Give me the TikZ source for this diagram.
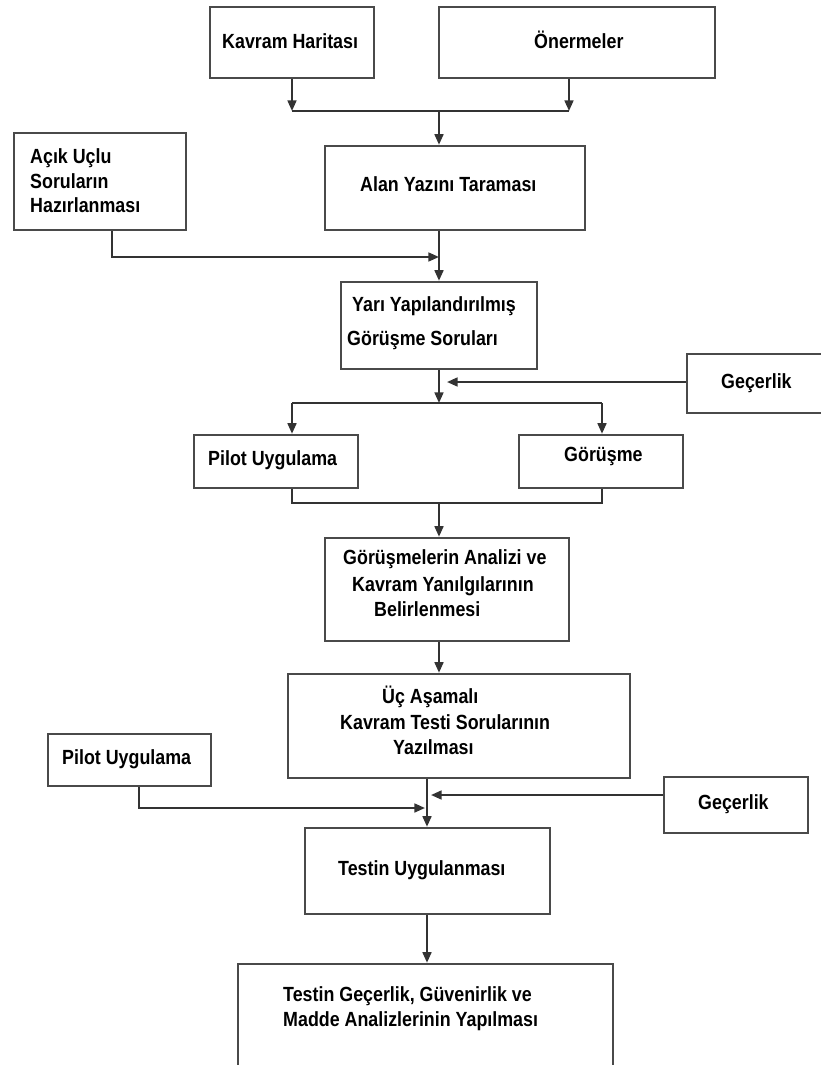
\documentclass[tikz,border=0pt]{standalone}
\usepackage{fontspec}
\setmainfont{Liberation Sans}[FakeStretch=0.87]
\usetikzlibrary{arrows.meta,fit}
\definecolor{edge}{HTML}{4A4A4A}
\definecolor{wire}{HTML}{333333}
\begin{document}
\begin{tikzpicture}[x=0.03cm,y=-0.03cm,
  box/.style={draw=edge,line width=2.1pt,inner sep=0pt},
  wire/.style={draw=wire,line width=1.8pt},
  arr/.style={wire,-{Triangle[length=9pt,width=7.5pt]}},
  lbl/.style={anchor=mid west,inner sep=0pt,yshift=-2.6pt,font=\fontsize{17.5}{20}\selectfont\bfseries}]
\clip (0,0) rectangle (821,1065);
\fill[white] (0,0) rectangle (821,1065);

% boxes
\node[box,fit={(210,7)(374,78)}]   (kh) {};
\node[box,fit={(439,7)(715,78)}]   (on) {};
\node[box,fit={(14,133)(186,230)}] (ac) {};
\node[box,fit={(325,146)(585,230)}] (al) {};
\node[box,fit={(341,282)(537,369)}] (yy) {};
\node[box,fit={(687,354)(830,413)}] (g1) {};
\node[box,fit={(194,435)(358,488)}] (p1) {};
\node[box,fit={(519,435)(683,488)}] (gr) {};
\node[box,fit={(325,538)(569,641)}] (ga) {};
\node[box,fit={(288,674)(630,778)}] (uc) {};
\node[box,fit={(48,734)(211,786)}]  (p2) {};
\node[box,fit={(664,777)(808,833)}] (g2) {};
\node[box,fit={(305,828)(550,914)}] (tu) {};
\node[box,fit={(238,964)(613,1090)}] (tg) {};

% texts
\node[lbl] (t1) at (222,42) {Kavram Haritası};
\node[lbl] (t2) at (534,42) {Önermeler};
\node[lbl] (t3a) at (30,157) {Açık Uçlu};
\node[lbl] (t3b) at (30,182) {Soruların};
\node[lbl] (t3c) at (30,206) {Hazırlanması};
\node[lbl] (t4) at (360,185) {Alan Yazını Taraması};
\node[lbl] (t5a) at (352,305) {Yarı Yapılandırılmış};
\node[lbl] (t5b) at (347,339) {Görüşme Soruları};
\node[lbl] (t6) at (721,382) {Geçerlik};
\node[lbl] (t7) at (208,459) {Pilot Uygulama};
\node[lbl] (t8) at (564,455) {Görüşme};
\node[lbl] (t9a) at (343,558) {Görüşmelerin Analizi ve};
\node[lbl] (t9b) at (352,585) {Kavram Yanılgılarının};
\node[lbl] (t9c) at (374,610) {Belirlenmesi};
\node[lbl] (t10a) at (382,697) {Üç Aşamalı};
\node[lbl] (t10b) at (340,723) {Kavram Testi Sorularının};
\node[lbl] (t10c) at (393,748) {Yazılması};
\node[lbl] (t11) at (62,758) {Pilot Uygulama};
\node[lbl] (t12) at (698,803) {Geçerlik};
\node[lbl] (t13) at (338,869) {Testin Uygulanması};
\node[lbl] (t14a) at (283,995) {Testin Geçerlik, Güvenirlik ve};
\node[lbl] (t14b) at (283,1020) {Madde Analizlerinin Yapılması};

% junction points
\coordinate (jA) at (439,111);
\coordinate (oA) at (569,111);
\coordinate (jB) at (439,257);
\coordinate (aB) at (112,257);
\coordinate (jC) at (447,382);
\coordinate (jD) at (439,403);
\coordinate (lD) at (292,403);
\coordinate (rD) at (602,403);
\coordinate (jE) at (439,503);
\coordinate (lE) at (292,503);
\coordinate (rE) at (602,503);
\coordinate (jF) at (431,795);
\coordinate (jG) at (425,808);
\coordinate (pG) at (139,808);
\coordinate (jH) at (427,0);

% top merge
\draw[arr] (kh.south) -- (kh.south |- jA);
\draw[arr] (oA |- on.south) -- (oA);
\draw[wire] (kh.south |- jA) -- (oA);
\draw[arr] (jA) -- (jA |- al.north);

% open-ended questions into main line
\draw[arr] (aB |- ac.south) -- (aB) -- (jB);
\draw[arr] (jB |- al.south) -- (jB |- yy.north);

% validity into main line
\draw[arr] (g1.west |- jC) -- (jC);
\draw[arr] (yy.south) -- (jD);

% split to pilot / interview
\draw[wire] (lD) -- (rD);
\draw[arr] (lD) -- (lD |- p1.north);
\draw[arr] (rD) -- (rD |- gr.north);

% merge to analysis
\draw[wire] (lE |- p1.south) -- (lE) -- (rE) -- (rE |- gr.south);
\draw[arr] (jE) -- (jE |- ga.north);
\draw[arr] (jE |- ga.south) -- (jE |- uc.north);

% lower main line
\draw[arr] (jH |- uc.south) -- (jH |- tu.north);
\draw[arr] (g2.west |- jF) -- (jF);
\draw[arr] (pG |- p2.south) -- (pG) -- (jG);
\draw[arr] (jH |- tu.south) -- (jH |- tg.north);
\end{tikzpicture}
\end{document}
